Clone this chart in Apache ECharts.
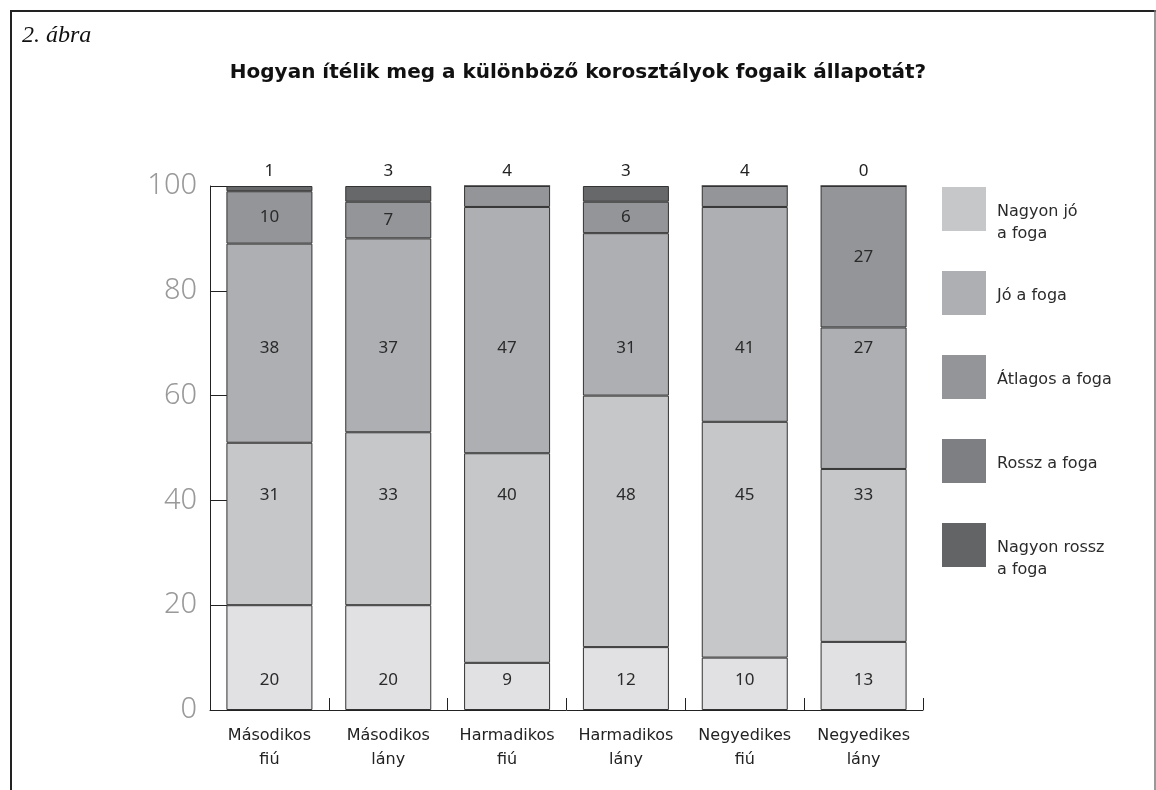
<!DOCTYPE html>
<html>
<head>
<meta charset="utf-8">
<title>2. ábra</title>
<script src="https://cdn.jsdelivr.net/npm/echarts@6/dist/echarts.min.js"></script>
<style>
  html, body { margin: 0; padding: 0; background: #fff; }
  #chart { width: 1156px; height: 790px; }
</style>
</head>
<body>
<div id="chart"></div>
<script>
const categories = ['Másodikos\nfiú', 'Másodikos\nlány', 'Harmadikos\nfiú', 'Harmadikos\nlány', 'Negyedikes\nfiú', 'Negyedikes\nlány']
const seriesNames = ['Nagyon jó a foga', 'Jó a foga', 'Átlagos a foga', 'Rossz a foga', 'Nagyon rossz a foga']
const legendLabels = ['Nagyon jó\na foga', 'Jó a foga', 'Átlagos a foga', 'Rossz a foga', 'Nagyon rossz\na foga']
const veryGood = [20, 20, 9, 12, 10, 13]
const good = [31, 33, 40, 48, 45, 33]
const average = [38, 37, 47, 31, 41, 27]
const bad = [10, 7, 4, 6, 4, 27]
const veryBad = [1, 3, 0, 3, 0, 0]
const topLabels = [1, 3, 4, 3, 4, 0]
const yTicks = [0, 20, 40, 60, 80, 100]

const barColors = ['#e1e1e3', '#c6c7c9', '#aeafb2', '#949598', '#67686a']
const legendColors = ['#c6c7c9', '#aeafb2', '#949598', '#7e7f82', '#636466']
const font = '"Noto Sans", "DejaVu Sans", sans-serif'
const wideFont = '"DejaVu Sans", "Noto Sans", sans-serif'
// in the original the inside labels of the three lower series sit in rows (pixel y),
// the other series are labelled at the middle of their segment
const labelRows = [680, 495, 348, null, null]

const chart = echarts.init(document.getElementById('chart'))

const values = [veryGood, good, average, bad, veryBad]

const buildSeries = (offsets) => values.map((data, i) => {
    const last = i === values.length - 1
    return {
        name: seriesNames[i],
        type: 'bar',
        stack: 'total',
        barWidth: 86,
        data: data.map((v, j) => ({
            value: v,
            label: offsets ? { offset: [0, offsets[i][j]] } : {}
        })),
        itemStyle: {
            color: barColors[i],
            borderColor: '#333',
            borderWidth: 1
        },
        label: last ? {
            show: true,
            position: 'top',
            distance: 6,
            fontFamily: font,
            fontSize: 17,
            color: '#222',
            formatter: (p) => String(topLabels[p.dataIndex])
        } : {
            show: true,
            position: 'inside',
            fontFamily: font,
            fontSize: 17,
            color: '#2a2a2a',
            formatter: (p) => (p.value >= 5 ? String(p.value) : '')
        },
        emphasis: { disabled: true }
    }
})

// legend drawn as plain shapes so the two-line labels sit like the original
const legendGraphics = []
legendLabels.forEach((label, i) => {
    const top = 187 + i * 84
    legendGraphics.push({
        type: 'rect',
        left: 942,
        top: top,
        shape: { width: 44, height: 44 },
        style: { fill: legendColors[i] }
    })
    legendGraphics.push({
        type: 'text',
        x: 997,
        y: top + 14,
        style: {
            text: label,
            fontFamily: wideFont,
            fontSize: 16,
            lineHeight: 22,
            fill: '#2a2a2a',
            verticalAlign: 'top'
        }
    })
})

const option = {
    animation: false,
    title: {
        text: 'Hogyan ítélik meg a különböző korosztályok fogaik állapotát?',
        left: 'center',
        top: 58,
        textStyle: {
            fontFamily: wideFont,
            fontSize: 20,
            fontWeight: 'bold',
            color: '#111'
        }
    },
    grid: {
        left: 210,
        right: 233,
        top: 186,
        bottom: 80,
        containLabel: false
    },
    xAxis: {
        type: 'category',
        data: categories,
        axisLine: { lineStyle: { color: '#222', width: 1 } },
        axisTick: { show: true, inside: true, length: 12, lineStyle: { color: '#222' } },
        axisLabel: {
            interval: 0,
            margin: 14,
            fontFamily: wideFont,
            fontSize: 16,
            lineHeight: 24,
            color: '#222'
        }
    },
    yAxis: {
        type: 'value',
        min: yTicks[0],
        max: yTicks[yTicks.length - 1],
        interval: 20,
        axisLine: { show: true, lineStyle: { color: '#222', width: 1 } },
        axisTick: { show: true, inside: true, length: 17, lineStyle: { color: '#222' } },
        splitLine: { show: false },
        axisLabel: {
            margin: 13,
            fontFamily: font,
            fontSize: 29,
            fontWeight: 300,
            color: '#999'
        }
    },
    graphic: [
        {
            type: 'line',
            shape: { x1: 10, y1: 11, x2: 1156, y2: 11 },
            style: { stroke: '#222', lineWidth: 2 }
        },
        {
            type: 'line',
            shape: { x1: 11, y1: 10, x2: 11, y2: 790 },
            style: { stroke: '#222', lineWidth: 2 }
        },
        {
            type: 'line',
            shape: { x1: 1155, y1: 10, x2: 1155, y2: 790 },
            style: { stroke: '#777', lineWidth: 1.5 }
        },
        {
            type: 'text',
            x: 22,
            y: 24,
            style: {
                text: '2. ábra',
                fontFamily: '"Liberation Serif", serif',
                fontStyle: 'italic',
                fontSize: 24,
                fill: '#111'
            }
        },
        ...legendGraphics
    ],
    series: buildSeries(null)
}

chart.setOption(option)

// shift the inside labels of the lower series onto their rows
const offsets = values.map((data, i) => data.map((v, j) => {
    if (labelRows[i] === null) return 0
    let base = 0
    for (let k = 0; k < i; k++) base += values[k][j]
    const mid = chart.convertToPixel({ yAxisIndex: 0 }, base + v / 2)
    return labelRows[i] - mid
}))
chart.setOption({ series: buildSeries(offsets) })

window.addEventListener('resize', () => chart.resize())
</script>
</body>
</html>
